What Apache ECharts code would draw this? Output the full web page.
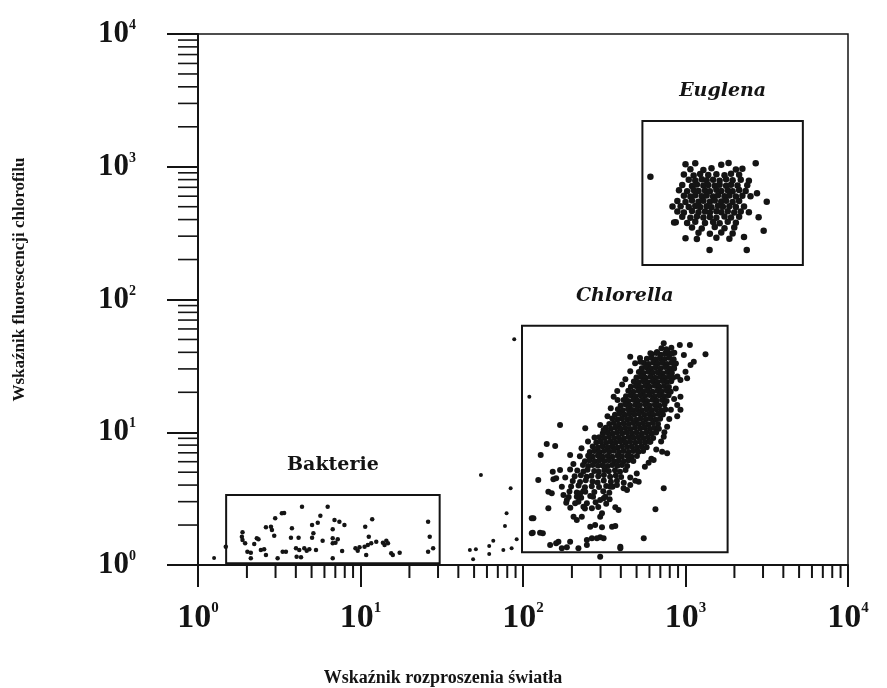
<!DOCTYPE html>
<html><head><meta charset="utf-8">
<script src="https://cdn.jsdelivr.net/npm/echarts@6/dist/echarts.min.js"></script>
<style>html,body{margin:0;padding:0;background:#fff}#c{width:887px;height:688px}</style>
</head><body><div id="c"></div>
<script>
// Axis ticks (both axes are log10 scales)
const decadeTicks = [1, 10, 100, 1000, 10000];
const decadeExponents = ['0', '1', '2', '3', '4'];
const minorTicks = [2,3,4,5,6,7,8,9, 20,30,40,50,60,70,80,90, 200,300,400,500,600,700,800,900, 2000,3000,4000,5000,6000,7000,8000,9000];

// Gates (rectangles) drawn on the cytogram
const gateNames = ['Bakterie', 'Chlorella', 'Euglena'];
const gateX = [[1.49, 30.7], [98.6, 1816], [543, 5275]];
const gateY = [[1.03, 3.37], [1.25, 63.3], [182, 2213]];

// Events in decades: [log10(scatter), log10(fluorescence)]
const bakterieLog = [[0.640,0.439],[0.798,0.439],[0.516,0.389],[0.530,0.392],[0.475,0.352],[0.753,0.371],[0.840,0.339],[0.870,0.326],[0.901,0.301],[1.072,0.344],[0.418,0.284],[0.449,0.289],[0.455,0.264],[0.578,0.276],[0.702,0.301],[0.737,0.319],[0.829,0.269],[1.029,0.289],[0.274,0.246],[0.270,0.213],[0.274,0.188],[0.362,0.201],[0.372,0.194],[0.469,0.221],[0.572,0.206],[0.619,0.206],[0.710,0.239],[0.702,0.206],[0.767,0.183],[0.829,0.201],[0.860,0.194],[1.051,0.213],[0.290,0.163],[0.346,0.158],[0.304,0.100],[0.325,0.093],[0.387,0.113],[0.407,0.118],[0.418,0.075],[0.325,0.050],[0.490,0.050],[0.521,0.100],[0.541,0.100],[0.603,0.126],[0.623,0.113],[0.654,0.126],[0.669,0.108],[0.685,0.118],[0.607,0.063],[0.634,0.058],[0.726,0.113],[0.829,0.163],[0.846,0.168],[0.887,0.105],[0.829,0.050],[0.969,0.126],[0.983,0.108],[0.994,0.133],[1.025,0.138],[1.045,0.151],[1.035,0.075],[1.066,0.163],[1.097,0.176],[1.138,0.168],[1.159,0.183],[1.148,0.151],[1.169,0.163],[1.189,0.088],[1.199,0.075],[1.241,0.093],[1.416,0.326],[1.426,0.213],[1.416,0.100],[1.447,0.126],[0.171,0.138]];

const strayLog = [[1.946,1.700],[1.741,0.678],[1.924,0.578],[1.899,0.389],[1.889,0.294],[1.817,0.183],[1.792,0.143],[1.673,0.113],[1.710,0.118],[1.792,0.083],[1.879,0.113],[1.930,0.126],[1.961,0.194],[1.693,0.043],[2.039,1.268],[0.099,0.053]];

const chlorellaLog = [
[2.852,1.632],[2.881,1.625],[2.913,1.636],
[2.793,1.588],[2.821,1.597],[2.846,1.584],[2.874,1.593],[2.902,1.586],[2.931,1.598],
[2.762,1.553],[2.789,1.561],[2.816,1.549],[2.842,1.558],[2.871,1.552],[2.898,1.561],[2.927,1.550],
[2.744,1.522],[2.773,1.515],[2.801,1.526],[2.829,1.518],[2.858,1.524],[2.886,1.514],[2.914,1.523],[2.941,1.517],
[2.731,1.482],[2.758,1.490],[2.787,1.480],[2.815,1.488],[2.846,1.483],[2.874,1.491],[2.902,1.479],[2.929,1.487],
[2.713,1.453],[2.742,1.446],[2.771,1.455],[2.799,1.448],[2.828,1.452],[2.858,1.445],[2.887,1.454],[2.916,1.447],
[2.698,1.412],[2.726,1.419],[2.754,1.410],[2.784,1.418],[2.813,1.411],[2.843,1.420],[2.871,1.413],[2.899,1.418],[2.924,1.410],
[2.682,1.383],[2.711,1.376],[2.739,1.385],[2.768,1.377],[2.798,1.384],[2.829,1.378],[2.858,1.386],[2.886,1.379],[2.912,1.384],
[2.664,1.342],[2.694,1.349],[2.723,1.341],[2.752,1.348],[2.781,1.343],[2.811,1.350],[2.840,1.342],[2.868,1.348],[2.898,1.341],
[2.648,1.313],[2.678,1.306],[2.709,1.314],[2.738,1.307],[2.766,1.312],[2.796,1.305],[2.826,1.313],[2.854,1.307],[2.884,1.314],[2.909,1.306],
[2.634,1.272],[2.663,1.279],[2.692,1.271],[2.721,1.278],[2.751,1.273],[2.779,1.280],[2.811,1.272],[2.839,1.278],[2.869,1.271],[2.896,1.279],
[2.619,1.243],[2.648,1.236],[2.679,1.244],[2.706,1.237],[2.736,1.242],[2.764,1.235],[2.796,1.244],[2.824,1.238],[2.856,1.243],[2.884,1.236],
[2.601,1.202],[2.631,1.209],[2.659,1.201],[2.691,1.208],[2.719,1.203],[2.751,1.210],[2.779,1.202],[2.811,1.208],[2.839,1.201],[2.871,1.209],
[2.584,1.173],[2.614,1.166],[2.646,1.174],[2.674,1.167],[2.702,1.172],[2.731,1.165],[2.759,1.174],[2.791,1.168],[2.819,1.173],[2.851,1.166],[2.876,1.172],
[2.566,1.132],[2.594,1.139],[2.626,1.131],[2.654,1.138],[2.686,1.133],[2.714,1.140],[2.746,1.132],[2.774,1.138],[2.801,1.131],[2.831,1.139],[2.861,1.133],
[2.549,1.103],[2.581,1.096],[2.609,1.104],[2.641,1.097],[2.664,1.102],[2.696,1.095],[2.724,1.104],[2.756,1.098],[2.784,1.103],[2.816,1.096],[2.844,1.102],
[2.531,1.062],[2.559,1.069],[2.591,1.061],[2.619,1.068],[2.651,1.063],[2.679,1.070],[2.711,1.062],[2.739,1.068],[2.771,1.061],[2.799,1.069],[2.831,1.063],
[2.509,1.033],[2.541,1.026],[2.569,1.034],[2.601,1.027],[2.629,1.032],[2.661,1.025],[2.689,1.034],[2.721,1.028],[2.749,1.033],[2.781,1.026],[2.809,1.032],[2.836,1.027],
[2.491,0.992],[2.519,0.999],[2.551,0.991],[2.579,0.998],[2.611,0.993],[2.639,1.000],[2.671,0.992],[2.699,0.998],[2.731,0.991],[2.759,0.999],[2.791,0.993],[2.819,0.998],
[2.469,0.963],[2.501,0.956],[2.529,0.964],[2.561,0.957],[2.589,0.962],[2.621,0.955],[2.649,0.964],[2.681,0.958],[2.709,0.963],[2.741,0.956],[2.769,0.962],[2.801,0.957],
[2.451,0.922],[2.479,0.929],[2.511,0.921],[2.539,0.928],[2.571,0.923],[2.599,0.930],[2.631,0.922],[2.659,0.928],[2.691,0.921],[2.719,0.929],[2.751,0.923],[2.779,0.928],
[2.429,0.893],[2.461,0.886],[2.489,0.894],[2.521,0.887],[2.549,0.892],[2.581,0.885],[2.609,0.894],[2.641,0.888],[2.669,0.893],[2.701,0.886],[2.729,0.892],[2.761,0.887],
[2.411,0.852],[2.439,0.859],[2.471,0.851],[2.499,0.858],[2.531,0.853],[2.559,0.860],[2.591,0.852],[2.619,0.858],[2.651,0.851],[2.679,0.859],[2.711,0.853],[2.739,0.858],
[2.401,0.823],[2.429,0.816],[2.461,0.824],[2.489,0.817],[2.521,0.822],[2.549,0.815],[2.581,0.824],[2.609,0.818],[2.641,0.823],[2.669,0.816],[2.701,0.822],
[2.381,0.782],[2.409,0.789],[2.441,0.781],[2.469,0.788],[2.501,0.783],[2.529,0.790],[2.561,0.782],[2.589,0.788],[2.621,0.781],[2.649,0.789],[2.679,0.783],
[2.369,0.753],[2.401,0.746],[2.429,0.754],[2.461,0.747],[2.489,0.752],[2.521,0.745],[2.549,0.754],[2.581,0.748],[2.609,0.753],[2.641,0.746],
[2.334,0.712],[2.372,0.704],[2.397,0.718],[2.438,0.709],[2.466,0.702],[2.501,0.716],[2.528,0.707],[2.566,0.713],[2.597,0.703],[2.631,0.715],
[2.318,0.668],[2.356,0.677],[2.392,0.664],[2.421,0.673],[2.463,0.669],[2.498,0.678],[2.536,0.665],[2.571,0.674],[2.604,0.662],
[2.306,0.633],[2.351,0.626],[2.386,0.638],[2.428,0.629],[2.459,0.622],[2.497,0.636],[2.541,0.628],[2.578,0.634],
[2.296,0.591],[2.342,0.598],[2.381,0.585],[2.423,0.594],[2.468,0.587],[2.512,0.596],[2.551,0.589],
[2.286,0.553],[2.331,0.546],[2.372,0.558],[2.439,0.549],[2.494,0.556],[2.531,0.544],
[2.281,0.512],[2.358,0.506],[2.431,0.514],[2.497,0.503],
[2.266,0.468],[2.341,0.476],[2.447,0.472],[2.512,0.461],
[2.291,0.432],[2.381,0.425],[2.463,0.437],
[2.383,1.030],[2.475,1.055],[2.496,1.017],[2.558,1.268],[2.582,1.243],[2.440,0.960],[2.400,0.930],[2.360,0.880],[2.350,0.820],[2.310,0.760],[2.290,0.720],[2.260,0.660],[2.520,1.120],[2.540,1.180],[2.580,1.310],[2.610,1.360],[2.630,1.400],[2.660,1.460],[2.690,1.520],[2.720,1.560],
[2.930,1.480],[2.950,1.420],[2.940,1.330],[2.930,1.250],[2.910,1.170],[2.900,1.100],[2.870,1.000],[2.850,0.930],[2.820,0.870],[2.790,0.800],[2.750,0.740],[2.700,0.690],[2.660,0.660],[2.620,0.620],
[2.866,1.670],[2.965,1.657],[3.027,1.657],[3.123,1.587],[2.660,1.569],[2.784,1.595],[2.825,1.605],[2.887,1.612],[2.918,1.595],[2.722,1.532],[2.990,1.582],[3.051,1.532],[3.031,1.507],[3.000,1.456],[2.969,1.394],[3.010,1.406],[2.969,1.268],[2.949,1.205],[2.969,1.170],[2.949,1.120],[2.887,1.042],[2.866,0.966],[2.784,0.929],
[2.228,1.055],[2.146,0.911],[2.198,0.896],[2.109,0.829],[2.290,0.829],[2.228,0.716],[2.183,0.703],[2.094,0.640],[2.187,0.646],[2.204,0.653],[2.156,0.552],[2.177,0.540],[2.239,0.590],[2.156,0.427],[2.064,0.352],[2.060,0.243],[2.122,0.239],[2.167,0.151],[2.204,0.163],[2.290,0.176],[2.239,0.126],[2.270,0.133],[2.393,0.188],[2.424,0.201],[2.475,0.209],[2.496,0.201],[2.599,0.138],[2.743,0.201],[2.475,0.063],[2.815,0.420],[2.866,0.578],[2.311,0.364],[2.331,0.339],[2.362,0.364],[2.414,0.289],[2.444,0.301],[2.486,0.284],[2.548,0.289],[2.568,0.294],[2.475,0.364],[2.486,0.389],[2.372,0.439],[2.393,0.465],[2.424,0.427],[2.321,0.465],[2.270,0.490],[2.249,0.527],[2.331,0.515],[2.352,0.540],[2.383,0.552],[2.414,0.520],[2.475,0.490],[2.506,0.515],[2.533,0.495],[2.568,0.435],[2.588,0.414],[2.691,0.635],[2.712,0.628],[2.660,0.603],[2.773,0.771],[2.804,0.791],[2.856,0.853],[2.887,0.841],[2.619,0.578],[2.640,0.565],[2.537,0.590],[2.578,0.603],
[2.455,0.201],[2.341,0.126],[2.393,0.151],[2.218,0.176],[2.054,0.239],[2.105,0.243],[2.054,0.352],[2.599,0.126]
];

const euglenaLog = [
[3.00,3.018],[3.06,3.026],[3.22,3.015],[3.265,3.028],
[3.03,2.982],[3.11,2.975],[3.16,2.988],[3.31,2.979],[3.35,2.985],
[2.99,2.942],[3.05,2.935],[3.09,2.946],[3.14,2.938],[3.19,2.944],[3.24,2.936],[3.28,2.947],[3.33,2.939],
[3.02,2.903],[3.06,2.896],[3.10,2.905],[3.13,2.898],[3.17,2.902],[3.21,2.894],[3.25,2.906],[3.29,2.899],[3.34,2.903],[3.39,2.895],
[2.98,2.862],[3.04,2.855],[3.07,2.866],[3.11,2.858],[3.14,2.863],[3.18,2.856],[3.21,2.865],[3.25,2.857],[3.28,2.864],[3.32,2.858],[3.38,2.861],
[2.96,2.823],[3.01,2.816],[3.05,2.825],[3.08,2.818],[3.12,2.822],[3.15,2.815],[3.19,2.826],[3.22,2.818],[3.26,2.823],[3.29,2.816],[3.33,2.824],[3.37,2.817],
[2.99,2.782],[3.03,2.776],[3.06,2.785],[3.10,2.777],[3.13,2.783],[3.17,2.775],[3.20,2.786],[3.24,2.778],[3.27,2.784],[3.31,2.776],[3.35,2.781],[3.40,2.777],
[2.95,2.742],[3.00,2.735],[3.04,2.746],[3.08,2.737],[3.11,2.743],[3.15,2.736],[3.18,2.745],[3.22,2.738],[3.25,2.744],[3.29,2.735],[3.33,2.742],
[2.97,2.703],[3.02,2.696],[3.06,2.705],[3.09,2.697],[3.13,2.702],[3.16,2.695],[3.20,2.706],[3.23,2.698],[3.27,2.703],[3.31,2.696],[3.36,2.701],
[2.95,2.662],[2.99,2.655],[3.04,2.666],[3.08,2.657],[3.12,2.663],[3.15,2.656],[3.19,2.665],[3.22,2.657],[3.26,2.664],[3.30,2.655],[3.34,2.662],[3.39,2.657],
[2.98,2.623],[3.03,2.616],[3.07,2.625],[3.11,2.617],[3.15,2.622],[3.19,2.615],[3.24,2.626],[3.28,2.618],[3.33,2.623],
[2.94,2.582],[3.01,2.576],[3.06,2.585],[3.12,2.577],[3.17,2.583],[3.21,2.575],[3.26,2.586],[3.31,2.578],
[3.04,2.542],[3.10,2.535],[3.18,2.546],[3.24,2.537],[3.30,2.543],
[3.08,2.503],[3.15,2.496],[3.22,2.505],[3.29,2.497],
[3.00,2.462],[3.07,2.455],[3.19,2.466],[3.27,2.457],
[2.784,2.925],[3.432,3.026],[3.50,2.737],[3.481,2.518],[3.148,2.373],[3.377,2.373],[3.44,2.80],[3.45,2.62],[2.92,2.70],[2.93,2.58],[3.36,2.47]
];

const fromDecades = pts => pts.map(p => [Math.pow(10, p[0]), Math.pow(10, p[1])]);

const INK = '#141414';
const SERIF = '"Liberation Serif", "DejaVu Serif", serif';

function decadeLabel(v) {
  const i = decadeTicks.findIndex(t => Math.abs(t - v) / t < 1e-6);
  return i < 0 ? '' : '{b|10}{s|' + decadeExponents[i] + '}';
}

const dot = {color: INK, opacity: 1, borderWidth: 0};

const chart = echarts.init(document.getElementById('c'), null, {renderer: 'canvas'});
chart.setOption({
  animation: false,
  backgroundColor: '#fff',
  grid: {left: 198, right: 39, top: 34, bottom: 123, outerBoundsMode: 'none', containLabel: false,
         show: true, borderColor: INK, borderWidth: 1.5, backgroundColor: 'transparent'},
  xAxis: {
    type: 'log', logBase: 10, min: 1, max: 10000, splitNumber: 4,
    name: 'Wskaźnik rozproszenia światła', nameLocation: 'middle', nameGap: 104,
    nameTextStyle: {fontFamily: SERIF, fontSize: 18, fontWeight: 'bold', color: INK, padding: [0, 160, 0, 0]},
    axisLine: {lineStyle: {color: INK, width: 2}},
    axisTick: {length: 22, lineStyle: {color: INK, width: 2}},
    splitLine: {show: false},
    axisLabel: {
      margin: 36, formatter: decadeLabel, showMinLabel: true, showMaxLabel: true,
      rich: {b: {fontFamily: SERIF, fontSize: 34, fontWeight: 'bold', color: INK}, s: {fontFamily: SERIF, fontSize: 15, fontWeight: 'bold', color: INK, verticalAlign: 'top'}}
    }
  },
  yAxis: {
    type: 'log', logBase: 10, min: 1, max: 10000, splitNumber: 4,
    name: 'Wskaźnik fluorescencji chlorofilu', nameLocation: 'middle', nameGap: 170,
    nameTextStyle: {fontFamily: SERIF, fontSize: 17, fontWeight: 'bold', color: INK, padding: [0, 0, 0, 40]},
    axisLine: {lineStyle: {color: INK, width: 2}},
    axisTick: {length: 31, lineStyle: {color: INK, width: 2}},
    splitLine: {show: false},
    axisLabel: {
      margin: 62, formatter: decadeLabel, showMinLabel: true, showMaxLabel: true,
      rich: {b: {fontFamily: SERIF, fontSize: 31, fontWeight: 'bold', color: INK}, s: {fontFamily: SERIF, fontSize: 14, fontWeight: 'bold', color: INK, verticalAlign: 'top'}}
    }
  },
  series: [
    {
      type: 'custom', silent: true, clip: false,
      data: minorTicks.map(v => [v, 1]), encode: {x: 0, y: 1},
      renderItem(params, api) {
        const p = api.coord([api.value(0), api.value(1)]);
        return {type: 'line', shape: {x1: p[0], y1: p[1], x2: p[0], y2: p[1] + 13}, style: {stroke: INK, lineWidth: 2}};
      }
    },
    {
      type: 'custom', silent: true, clip: false,
      data: minorTicks.map(v => [1, v]), encode: {x: 0, y: 1},
      renderItem(params, api) {
        const p = api.coord([api.value(0), api.value(1)]);
        return {type: 'line', shape: {x1: p[0] - 20, y1: p[1], x2: p[0], y2: p[1]}, style: {stroke: INK, lineWidth: 1.6}};
      }
    },
    {
      type: 'custom', silent: true, clip: false,
      data: gateNames.map((n, i) => [gateX[i][0], gateX[i][1], gateY[i][0], gateY[i][1]]),
      encode: {x: [0, 1], y: [2, 3]},
      renderItem(params, api) {
        const p0 = api.coord([api.value(0), api.value(3)]);
        const p1 = api.coord([api.value(1), api.value(2)]);
        const name = gateNames[params.dataIndex];
        return {
          type: 'group',
          children: [
            {type: 'rect', shape: {x: p0[0], y: p0[1], width: p1[0] - p0[0], height: p1[1] - p0[1]},
             style: {fill: 'none', stroke: INK, lineWidth: 2}},
            {type: 'text', x: (p0[0] + p1[0]) / 2, y: p0[1] - 30,
             style: {text: name, fill: INK, align: 'center', verticalAlign: 'middle',
               font: (name === 'Bakterie' ? '' : 'italic ') + 'bold 19px "DejaVu Serif", serif'}}
          ]
        };
      }
    },
    {type: 'scatter', name: 'Bakterie', data: fromDecades(bakterieLog), symbolSize: 4.5, itemStyle: dot, silent: true},
    {type: 'scatter', name: 'inne', data: fromDecades(strayLog), symbolSize: 4, itemStyle: dot, silent: true},
    {type: 'scatter', name: 'Chlorella', data: fromDecades(chlorellaLog), symbolSize: 6, itemStyle: dot, silent: true},
    {type: 'scatter', name: 'Euglena', data: fromDecades(euglenaLog), symbolSize: 6.5, itemStyle: dot, silent: true}
  ]
});
</script>
</body></html>
